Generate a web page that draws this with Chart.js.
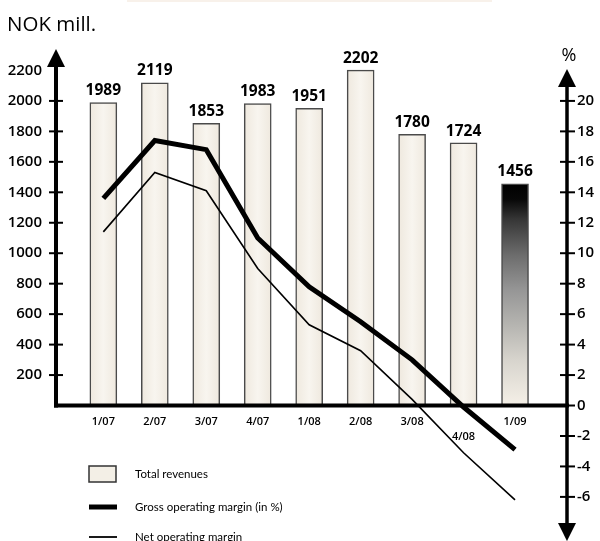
<!DOCTYPE html>
<html>
<head>
<meta charset="utf-8">
<script src="https://cdn.jsdelivr.net/npm/chart.js@4"></script>
<style>
  html, body { margin: 0; padding: 0; background: #fff; }
  canvas { display: block; }
</style>
</head>
<body>
<canvas id="chart" width="600" height="541"></canvas>
<script>
// Quarterly figures
const quarters = ['1/07', '2/07', '3/07', '4/07', '1/08', '2/08', '3/08', '4/08', '1/09'];
const totalRevenues = [1989, 2119, 1853, 1983, 1951, 2202, 1780, 1724, 1456];   // NOK mill.
const grossMargin = [13.6, 17.4, 16.8, 11.0, 7.8, 5.5, 3.0, -0.1, -2.9];         // %
const netMargin = [11.4, 15.3, 14.1, 9.0, 5.3, 3.6, 0.4, -3.1, -6.2];            // %
const revenueTicks = [200, 400, 600, 800, 1000, 1200, 1400, 1600, 1800, 2000, 2200];
const percentTicks = [-6, -4, -2, 0, 2, 4, 6, 8, 10, 12, 14, 16, 18, 20];
const seriesNames = ['Total revenues', 'Gross operating margin (in %)', 'Net operating margin'];
const droppedLabels = ['4/08'];   // quarter label set one line lower

// Axis extents (value units) and arrow tips
const revenueRange = { min: -732, max: 2400 };
const percentRange = { min: -7.32, max: 24 };
const leftArrowTip = 2341;
const rightArrowTop = 22.1;
const rightArrowBottom = -8.9;

const TEXT = '#000';
const BAR_FILL = '#f3efe6';
const latestIndex = quarters.length - 1;

function barFill(ctx) {
  const chart = ctx.chart;
  if (!chart.chartArea || ctx.type !== 'data') return BAR_FILL;
  const c = chart.ctx;
  const xs = chart.scales.x, ys = chart.scales.y;
  if (ctx.dataIndex === latestIndex) {
    const top = ys.getPixelForValue(ctx.parsed.y);
    const base = ys.getPixelForValue(0);
    const g = c.createLinearGradient(0, top, 0, base);
    g.addColorStop(0, '#000000');
    g.addColorStop(0.07, '#080808');
    g.addColorStop(0.16, '#363636');
    g.addColorStop(0.32, '#6c6c6c');
    g.addColorStop(0.48, '#969696');
    g.addColorStop(0.64, '#b6b5b1');
    g.addColorStop(0.8, '#d8d5ce');
    g.addColorStop(1, '#f5f0e7');
    return g;
  }
  const cx = xs.getPixelForValue(ctx.parsed.x);
  const g = c.createLinearGradient(cx - 13, 0, cx + 13, 0);
  g.addColorStop(0, '#efe9df');
  g.addColorStop(0.5, '#f8f5ef');
  g.addColorStop(1, '#efe9df');
  return g;
}

function strokeLine(ctx, x1, y1, x2, y2) {
  ctx.beginPath();
  ctx.moveTo(x1, y1);
  ctx.lineTo(x2, y2);
  ctx.stroke();
}

function arrowHead(ctx, x, tipY, dir) {
  const h = 18, half = 9;
  ctx.beginPath();
  ctx.moveTo(x, tipY);
  ctx.lineTo(x - half, tipY + dir * h);
  ctx.lineTo(x + half, tipY + dir * h);
  ctx.closePath();
  ctx.fill();
}

// Axis lines with arrows and crossing tick marks
const axisDecor = {
  id: 'axisDecor',
  afterDatasetsDraw(chart) {
    const { ctx, chartArea, scales } = chart;
    const y = scales.y, y1 = scales.y1;
    const y0 = y.getPixelForValue(0);
    const lx = chartArea.left, rx = chartArea.right;
    ctx.save();
    ctx.strokeStyle = '#000';
    ctx.fillStyle = '#000';
    ctx.lineCap = 'butt';

    // horizontal axis
    ctx.lineWidth = 4;
    strokeLine(ctx, lx - 2, y0, rx + 2, y0);

    // left axis
    const lTip = y.getPixelForValue(leftArrowTip);
    strokeLine(ctx, lx, y0 + 2, lx, lTip + 12);
    arrowHead(ctx, lx, lTip, 1);

    // right axis
    const rTop = y1.getPixelForValue(rightArrowTop);
    const rBot = y1.getPixelForValue(rightArrowBottom);
    ctx.lineWidth = 3.5;
    strokeLine(ctx, rx, rTop + 12, rx, rBot - 12);
    arrowHead(ctx, rx, rTop, 1);
    arrowHead(ctx, rx, rBot, -1);

    // tick marks
    ctx.lineWidth = 2;
    revenueTicks.forEach(v => {
      const p = y.getPixelForValue(v);
      if (p > lTip + 22) strokeLine(ctx, lx - 7, p, lx + 7, p);
    });
    percentTicks.forEach(v => {
      const p = y1.getPixelForValue(v);
      strokeLine(ctx, rx - 7, p, rx + 8, p);
    });
    ctx.restore();
  }
};

// Revenue figures above the bars, titles and legend
const annotations = {
  id: 'annotations',
  beforeDraw(chart) {
    const { ctx } = chart;
    ctx.save();
    ctx.fillStyle = '#f8f1ea';
    ctx.fillRect(127, 0, 365, 2);
    ctx.restore();
  },
  afterDraw(chart) {
    const { ctx, chartArea } = chart;
    ctx.save();
    ctx.fillStyle = TEXT;

    // bar values
    ctx.font = '700 15.5px "Open Sans"';
    ctx.textAlign = 'center';
    ctx.textBaseline = 'bottom';
    chart.getDatasetMeta(0).data.forEach((bar, i) => {
      ctx.fillText(String(totalRevenues[i]), bar.x, bar.y - 4);
    });

    // unit titles
    ctx.font = '400 20.5px "Open Sans"';
    ctx.textAlign = 'left';
    ctx.textBaseline = 'middle';
    ctx.fillText('NOK mill.', 7, 25);
    ctx.font = '400 18px "Open Sans"';
    ctx.textAlign = 'center';
    ctx.fillText('%', chartArea.right + 2, 56);

    // legend
    const lx = 89, tx = 135;
    ctx.fillStyle = BAR_FILL;
    ctx.fillRect(lx, 466, 27, 16);
    ctx.strokeStyle = '#333';
    ctx.lineWidth = 1.5;
    ctx.strokeRect(lx, 466, 27, 16);
    ctx.strokeStyle = '#000';
    ctx.lineWidth = 5;
    strokeLine(ctx, lx, 507, lx + 28, 507);
    ctx.lineWidth = 1.8;
    strokeLine(ctx, lx, 537, lx + 28, 537);

    ctx.fillStyle = TEXT;
    ctx.font = '400 11.5px Lato';
    ctx.textAlign = 'left';
    ctx.textBaseline = 'middle';
    ctx.fillText(seriesNames[0], tx, 474);
    ctx.fillText(seriesNames[1], tx, 507);
    ctx.fillText(seriesNames[2], tx, 537);
    ctx.restore();
  }
};

const tickFont = { family: '"Open Sans"', size: 15, weight: '600' };

new Chart(document.getElementById('chart'), {
  data: {
    datasets: [
      {
        type: 'bar',
        label: seriesNames[0],
        data: totalRevenues.map((v, i) => ({ x: i, y: v })),
        yAxisID: 'y',
        backgroundColor: barFill,
        borderColor: '#4a4a4a',
        borderWidth: 1.5,
        barThickness: 27,
        order: 3
      },
      {
        type: 'line',
        label: seriesNames[1],
        data: grossMargin.map((v, i) => ({ x: i, y: v })),
        yAxisID: 'y1',
        borderColor: '#000',
        borderWidth: 5,
        borderJoinStyle: 'miter',
        pointRadius: 0,
        tension: 0,
        order: 1
      },
      {
        type: 'line',
        label: seriesNames[2],
        data: netMargin.map((v, i) => ({ x: i, y: v })),
        yAxisID: 'y1',
        borderColor: '#000',
        borderWidth: 1.6,
        pointRadius: 0,
        tension: 0,
        order: 2
      }
    ]
  },
  options: {
    responsive: false,
    animation: false,
    devicePixelRatio: 1,
    layout: { padding: { top: 40, bottom: 24, left: 0, right: 0 } },
    plugins: { legend: { display: false }, tooltip: { enabled: false } },
    scales: {
      x: {
        type: 'linear',
        position: { y: 0 },
        offset: false,
        min: -0.92,
        max: 9.01,
        grid: { display: false, drawTicks: false },
        border: { display: false },
        afterBuildTicks: s => { s.ticks = quarters.map((q, i) => ({ value: i })); },
        ticks: {
          autoSkip: false,
          maxRotation: 0,
          padding: 9,
          color: TEXT,
          font: { family: '"Open Sans"', size: 11, weight: '600', lineHeight: 1.35 },
          callback: v => {
            const q = quarters[v];
            return droppedLabels.includes(q) ? ['', q] : q;
          }
        }
      },
      y: {
        type: 'linear',
        position: 'left',
        min: revenueRange.min,
        max: revenueRange.max,
        grid: { display: false, drawTicks: false },
        border: { display: false },
        afterBuildTicks: s => { s.ticks = revenueTicks.map(v => ({ value: v })); },
        afterFit: s => { s.width = 56; },
        ticks: { padding: 14, color: TEXT, font: tickFont, callback: v => String(v) }
      },
      y1: {
        type: 'linear',
        position: 'right',
        min: percentRange.min,
        max: percentRange.max,
        grid: { display: false, drawTicks: false },
        border: { display: false },
        afterBuildTicks: s => { s.ticks = percentTicks.map(v => ({ value: v })); },
        afterFit: s => { s.width = 33; },
        ticks: { padding: 10, color: TEXT, font: tickFont, callback: v => String(v) }
      }
    }
  },
  plugins: [axisDecor, annotations]
});
</script>
</body>
</html>
